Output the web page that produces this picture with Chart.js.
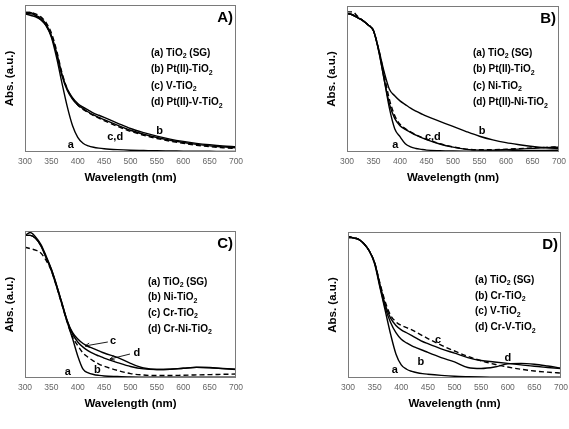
<!DOCTYPE html>
<html>
<head>
<meta charset="utf-8">
<script src="https://cdn.jsdelivr.net/npm/chart.js@4.4.1/dist/chart.umd.min.js"></script>
<style>
    html, body { margin: 0; padding: 0; background: #fff; }
    #wrap { position: relative; width: 569px; height: 429px; overflow: hidden; }
    #wrap canvas { position: absolute; }
</style>
</head>
<body>
<div id="wrap"></div>
<script>
// ===== DATA =====
const wavelength = [300,310,320,330,340,350,360,370,380,390,400,410,420,430,440,450,475,500,525,550,575,600,625,650,675,700];
const xTicks = [300,350,400,450,500,550,600,650,700];

// A) TiO2 / Pt(II) / V
const panelA_a = [0.94,0.93,0.92,0.90,0.86,0.78,0.64,0.47,0.31,0.18,0.10,0.06,0.042,0.032,0.026,0.022,0.016,0.012,0.01,0.008,0.007,0.006,0.005,0.005,0.004,0.004];
const panelA_b = [0.95,0.95,0.93,0.91,0.87,0.79,0.67,0.53,0.43,0.37,0.33,0.305,0.285,0.265,0.25,0.235,0.197,0.16,0.132,0.108,0.088,0.072,0.059,0.049,0.041,0.036];
const panelA_c = [0.94,0.94,0.93,0.90,0.86,0.79,0.67,0.52,0.42,0.36,0.32,0.295,0.272,0.252,0.236,0.22,0.183,0.148,0.121,0.099,0.08,0.065,0.052,0.042,0.035,0.029];
const panelA_d = [0.95,0.95,0.94,0.92,0.88,0.81,0.69,0.54,0.43,0.365,0.32,0.29,0.268,0.248,0.23,0.213,0.175,0.141,0.114,0.092,0.074,0.059,0.046,0.036,0.029,0.023];

// B) TiO2 / Pt(II) / Ni
const panelB_a = [0.95,0.94,0.92,0.90,0.87,0.83,0.69,0.50,0.30,0.16,0.105,0.057,0.035,0.024,0.018,0.013,0.009,0.007,0.006,0.006,0.007,0.008,0.009,0.01,0.011,0.012];
const panelB_b = [0.95,0.94,0.92,0.90,0.87,0.83,0.70,0.55,0.43,0.385,0.35,0.325,0.30,0.28,0.262,0.245,0.21,0.175,0.14,0.108,0.083,0.064,0.05,0.038,0.029,0.023];
const panelB_c = [0.95,0.94,0.92,0.90,0.87,0.83,0.69,0.50,0.33,0.23,0.18,0.155,0.135,0.116,0.10,0.085,0.055,0.033,0.018,0.013,0.013,0.016,0.02,0.025,0.03,0.033];
const panelB_d = [0.96,0.96,0.93,0.90,0.87,0.83,0.70,0.53,0.36,0.25,0.19,0.16,0.138,0.118,0.102,0.087,0.057,0.035,0.02,0.015,0.016,0.019,0.023,0.028,0.032,0.036];

// C) TiO2 / Ni / Cr
const panelC_a = [0.97,0.97,0.95,0.90,0.82,0.73,0.62,0.50,0.38,0.27,0.15,0.06,0.035,0.024,0.018,0.014,0.01,0.007,0.006,0.005,0.005,0.005,0.005,0.005,0.005,0.005];
const panelC_b = [0.89,0.88,0.87,0.85,0.80,0.73,0.62,0.50,0.38,0.28,0.22,0.17,0.14,0.115,0.095,0.08,0.052,0.03,0.02,0.017,0.017,0.019,0.021,0.023,0.025,0.027];
const panelC_c = [0.97,0.99,0.96,0.91,0.83,0.74,0.63,0.51,0.39,0.31,0.265,0.235,0.215,0.20,0.185,0.17,0.14,0.10,0.068,0.058,0.06,0.066,0.072,0.07,0.064,0.058];
const panelC_d = [0.97,0.97,0.95,0.90,0.82,0.74,0.63,0.51,0.39,0.30,0.245,0.21,0.185,0.165,0.15,0.135,0.105,0.078,0.062,0.058,0.06,0.066,0.073,0.071,0.065,0.06];

// D) TiO2 / Cr / V
const panelD_a = [0.97,0.96,0.95,0.92,0.87,0.78,0.62,0.46,0.30,0.165,0.09,0.06,0.045,0.036,0.03,0.026,0.018,0.012,0.009,0.007,0.006,0.005,0.005,0.005,0.005,0.005];
const panelD_b = [0.97,0.96,0.95,0.92,0.87,0.79,0.63,0.48,0.38,0.31,0.265,0.24,0.22,0.205,0.19,0.175,0.14,0.11,0.072,0.065,0.075,0.097,0.1,0.094,0.082,0.068];
const panelD_c = [0.97,0.96,0.95,0.92,0.87,0.79,0.64,0.50,0.41,0.36,0.33,0.31,0.29,0.27,0.25,0.235,0.20,0.17,0.14,0.12,0.11,0.10,0.09,0.08,0.072,0.064];
const panelD_d = [0.96,0.96,0.95,0.92,0.87,0.79,0.65,0.52,0.43,0.385,0.36,0.345,0.33,0.31,0.29,0.27,0.225,0.185,0.148,0.118,0.094,0.075,0.06,0.048,0.04,0.034];

const legendA = ['(a) TiO2 (SG)', '(b) Pt(II)-TiO2', '(c) V-TiO2', '(d) Pt(II)-V-TiO2'];
const legendB = ['(a) TiO2 (SG)', '(b) Pt(II)-TiO2', '(c) Ni-TiO2', '(d) Pt(II)-Ni-TiO2'];
const legendC = ['(a) TiO2 (SG)', '(b) Ni-TiO2', '(c) Cr-TiO2', '(d) Cr-Ni-TiO2'];
const legendD = ['(a) TiO2 (SG)', '(b) Cr-TiO2', '(c) V-TiO2', '(d) Cr-V-TiO2'];

const FONT = '"Liberation Sans", Arial, sans-serif';

// ===== PANEL LAYOUT =====
const panels = [
    { id: 'A', left: 0, top: 0, w: 285, h: 200, plotL: 25, plotR: 236, plotT: 5, plotB: 152, titlePad: 15,
      series: [panelA_a, panelA_b, panelA_c, panelA_d], dashed: 3, legend: legendA,
      legX: 126, legY: 48, legStep: 16.5,
      marks: [['a', 387, 0.05], ['c,d', 471, 0.10], ['b', 555, 0.145]], arrows: [] },
    { id: 'B', left: 322, top: 0, w: 247, h: 200, plotL: 347, plotR: 559, plotT: 6, plotB: 152, titlePad: 15,
      series: [panelB_a, panelB_b, panelB_c, panelB_d], dashed: 3, legend: legendB,
      legX: 126, legY: 47, legStep: 16.5,
      marks: [['a', 391, 0.05], ['c,d', 462, 0.103], ['b', 555, 0.142]], arrows: [] },
    { id: 'C', left: 0, top: 215, w: 285, h: 214, plotL: 25, plotR: 236, plotT: 231, plotB: 378, titlePad: 18,
      series: [panelC_a, panelC_b, panelC_c, panelC_d], dashed: 1, legend: legendC,
      legX: 123, legY: 51, legStep: 15.6,
      marks: [['a', 381, 0.041], ['b', 437, 0.054], ['c', 467, 0.25], ['d', 512, 0.17]],
      arrows: [[[457, 0.245], [414, 0.218]], [[499, 0.163], [461, 0.129]]] },
    { id: 'D', left: 323, top: 215, w: 246, h: 214, plotL: 348, plotR: 561, plotT: 232, plotB: 378, titlePad: 18,
      series: [panelD_a, panelD_b, panelD_c, panelD_d], dashed: 3, legend: legendD,
      legX: 127, legY: 48, legStep: 15.8,
      marks: [['a', 388, 0.055], ['b', 437, 0.11], ['c', 469, 0.26], ['d', 600, 0.139]], arrows: [] }
];

// ===== HELPERS =====
function drawChem(ctx, text, x, y, size) {
    let cx = x;
    for (let i = 0; i < text.length; i++) {
        const ch = text[i];
        const sub = ch === '2' && text[i - 1] === 'O';
        ctx.font = 'bold ' + (sub ? size * 0.7 : size) + 'px ' + FONT;
        ctx.fillText(ch, cx, sub ? y + size * 0.32 : y);
        cx += ctx.measureText(ch).width;
    }
}

const decorPlugin = {
    id: 'decor',
    afterDatasetsDraw(chart, args, opts) {
        const { ctx, chartArea: ca, scales: { x, y } } = chart;
        ctx.save();
        // box frame
        ctx.strokeStyle = '#7a7a7a';
        ctx.lineWidth = 1;
        ctx.strokeRect(Math.round(ca.left) + 0.5, Math.round(ca.top) + 0.5,
                       Math.round(ca.width) - 1, Math.round(ca.height) - 1);

        ctx.fillStyle = '#000';
        // panel tag
        ctx.font = 'bold 15px ' + FONT;
        ctx.textAlign = 'right';
        ctx.textBaseline = 'middle';
        ctx.fillText(opts.tag + ')', ca.right - 3, ca.top + 13);

        // legend text
        ctx.textAlign = 'left';
        opts.legend.forEach((t, i) => {
            drawChem(ctx, t, ca.left + opts.legX, ca.top + opts.legY + i * opts.legStep, 10);
        });

        // curve labels
        ctx.font = 'bold 11px ' + FONT;
        ctx.textAlign = 'center';
        opts.marks.forEach(m => {
            ctx.fillText(m[0], x.getPixelForValue(m[1]), y.getPixelForValue(m[2]));
        });

        // arrows
        ctx.strokeStyle = '#000';
        ctx.lineWidth = 0.9;
        opts.arrows.forEach(a => {
            const x1 = x.getPixelForValue(a[0][0]), y1 = y.getPixelForValue(a[0][1]);
            const x2 = x.getPixelForValue(a[1][0]), y2 = y.getPixelForValue(a[1][1]);
            const ang = Math.atan2(y2 - y1, x2 - x1);
            ctx.beginPath();
            ctx.moveTo(x1, y1);
            ctx.lineTo(x2, y2);
            ctx.moveTo(x2 - 5 * Math.cos(ang - 0.45), y2 - 5 * Math.sin(ang - 0.45));
            ctx.lineTo(x2, y2);
            ctx.lineTo(x2 - 5 * Math.cos(ang + 0.45), y2 - 5 * Math.sin(ang + 0.45));
            ctx.stroke();
        });
        ctx.restore();
    }
};

// ===== BUILD CHARTS =====
const wrap = document.getElementById('wrap');

panels.forEach(p => {
    const cv = document.createElement('canvas');
    cv.width = p.w;
    cv.height = p.h;
    cv.style.left = p.left + 'px';
    cv.style.top = p.top + 'px';
    cv.style.width = p.w + 'px';
    cv.style.height = p.h + 'px';
    wrap.appendChild(cv);

    const datasets = p.series.map((arr, i) => ({
        data: wavelength.map((w, k) => ({ x: w, y: arr[k] })),
        borderColor: '#000',
        borderWidth: 1.4,
        borderDash: i === p.dashed ? [5, 3] : [],
        pointRadius: 0,
        fill: false,
        cubicInterpolationMode: 'monotone'
    }));

    new Chart(cv, {
        type: 'line',
        data: { datasets },
        plugins: [decorPlugin],
        options: {
            responsive: false,
            animation: false,
            layout: {
                padding: { left: 0, top: p.plotT - p.top, right: p.left + p.w - p.plotR, bottom: 0 }
            },
            plugins: {
                legend: { display: false },
                tooltip: { enabled: false },
                decor: { tag: p.id, legend: p.legend, legX: p.legX, legY: p.legY, legStep: p.legStep,
                         marks: p.marks, arrows: p.arrows }
            },
            scales: {
                x: {
                    type: 'linear', min: 300, max: 700,
                    afterBuildTicks: s => { s.ticks = xTicks.map(v => ({ value: v })); },
                    ticks: { color: '#666', font: { size: 8.5, family: FONT }, padding: 5, maxRotation: 0, autoSkip: false },
                    grid: { display: false, drawTicks: false },
                    border: { display: false },
                    title: {
                        display: true, text: 'Wavelength (nm)', color: '#000',
                        font: { size: 11.5, weight: 'bold', family: FONT },
                        padding: { top: 0, bottom: p.titlePad }
                    },
                    afterFit: s => { s.height = p.top + p.h - p.plotB; s.paddingLeft = 0; s.paddingRight = 0; }
                },
                y: {
                    min: 0, max: 1,
                    ticks: { display: false },
                    grid: { display: false, drawTicks: false },
                    border: { display: false },
                    title: {
                        display: true, text: 'Abs. (a.u.)', color: '#000',
                        font: { size: 11.5, weight: 'bold', family: FONT },
                        padding: { top: 3, bottom: 0 }
                    },
                    afterFit: s => { s.width = p.plotL - p.left; s.paddingTop = 0; s.paddingBottom = 0; }
                }
            }
        }
    });
});
</script>
</body>
</html>
